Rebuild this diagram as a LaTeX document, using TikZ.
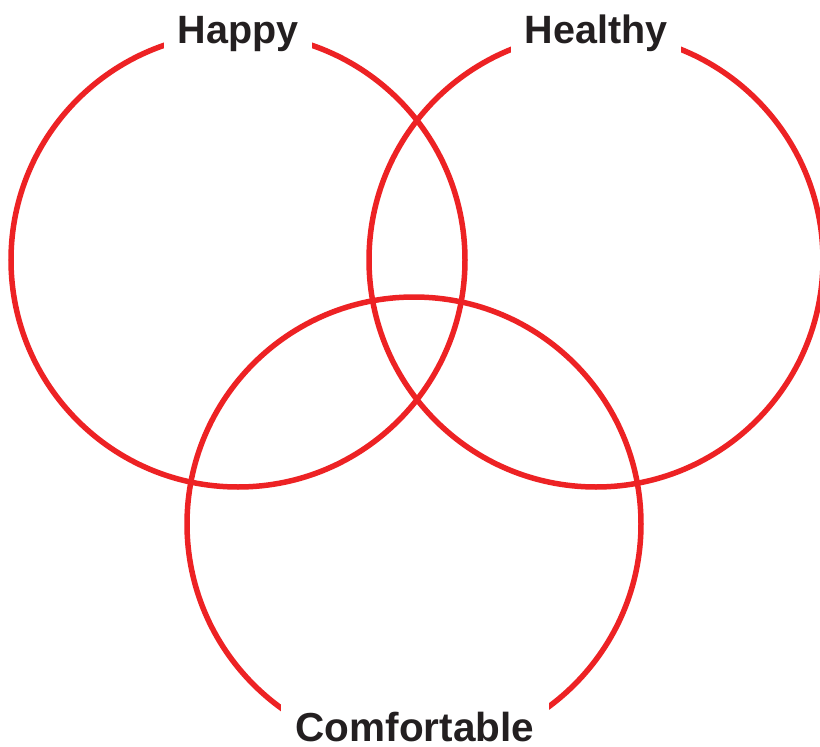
\documentclass[tikz,border=0pt]{standalone}
\usepackage{fontspec}
\setmainfont{Liberation Sans}
\definecolor{vred}{HTML}{ED2224}
\definecolor{vtext}{HTML}{231F20}
\begin{document}
\begin{tikzpicture}[x=1pt,y=-1pt,
  ring/.style={circle,draw=vred,line width=5.5pt,minimum size=454pt,inner sep=0pt},
  lbl/.style={fill=white,text=vtext,font=\fontsize{39.5}{40}\selectfont\bfseries,inner xsep=14pt,inner ysep=6pt,anchor=base}]
\useasboundingbox (0,0) rectangle (820,747);
\fill[white] (0,0) rectangle (820,747);
\node[ring] (happy) at (238,260) {};
\node[ring] (healthy) at (596,260) {};
\node[ring] (comf) at (414,524) {};
\node[lbl] (lhappy) at (238,43) {Happy};
\node[lbl] (lhealthy) at (596,43) {Healthy};
\node[lbl,inner xsep=15pt,inner ysep=12pt,font=\fontsize{40.5}{41}\selectfont\bfseries] (lcomf) at (415,741) {Comfortable};
\end{tikzpicture}
\end{document}
